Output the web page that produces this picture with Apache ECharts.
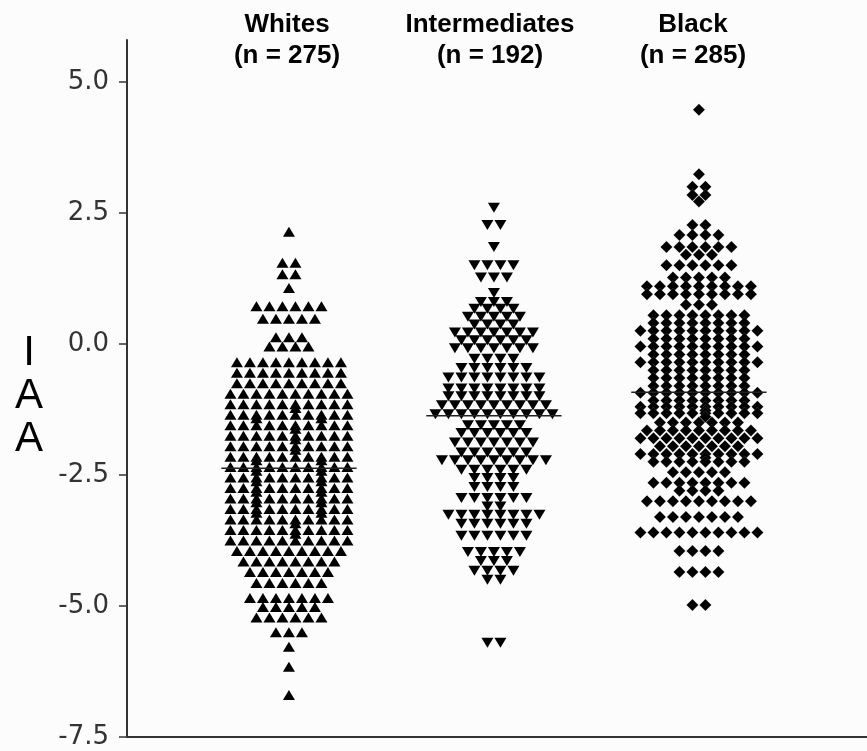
<!DOCTYPE html>
<html>
<head>
    <meta charset="utf-8" />
    <title>IAA by group</title>
    <style>
        html, body { margin: 0; padding: 0; background: #fcfcfc; }
        #chart { width: 867px; height: 751px; }
    </style>
</head>
<body>
    <div id="chart"></div>
    <script src="https://cdn.jsdelivr.net/npm/echarts@6/dist/echarts.min.js"></script>
    <script>
        // group names and sizes
        var groups = ['Whites', 'Intermediates', 'Black'];
        var groupN = [275, 192, 285];
        var yTicks = [-7.5, -5.0, -2.5, 0.0, 2.5, 5.0];

        // values: level -> number of points at that level
        var whitesLevels = [2.14, 1.55, 1.33, 1.07, 0.72, 0.48, 0.13, -0.05, -0.35, -0.55, -0.75, -0.95, -1.15, -1.35, -1.55, -1.75, -1.95, -2.15, -2.35, -2.55, -2.75, -2.95, -3.15, -3.35, -3.55, -3.75, -3.95, -4.15, -4.35, -4.56, -4.85, -5.02, -5.22, -5.5, -5.78, -6.16, -6.7];
        var whitesCounts = [1, 2, 2, 1, 6, 5, 3, 4, 9, 9, 9, 10, 11, 12, 11, 11, 11, 12, 12, 12, 12, 12, 12, 11, 11, 10, 9, 8, 7, 6, 7, 5, 6, 3, 1, 1, 1];

        var interLevels = [2.6, 2.27, 1.85, 1.5, 1.27, 0.97, 0.8, 0.67, 0.52, 0.37, 0.22, 0.07, -0.08, -0.28, -0.46, -0.64, -0.85, -1.0, -1.17, -1.34, -1.55, -1.7, -1.88, -2.07, -2.22, -2.4, -2.56, -2.73, -2.94, -3.1, -3.26, -3.43, -3.66, -3.97, -4.14, -4.33, -4.5, -5.7];
        var interCounts = [1, 2, 1, 4, 3, 1, 3, 4, 5, 4, 7, 6, 7, 4, 6, 8, 8, 8, 9, 10, 5, 6, 7, 6, 9, 6, 4, 4, 6, 2, 8, 6, 6, 5, 3, 4, 2, 2];

        var blackLevels = [4.47, 3.24, 3.0, 2.84, 2.72, 2.27, 2.08, 1.85, 1.7, 1.5, 1.27, 1.1, 0.95, 0.75, 0.55, 0.4, 0.25, 0.1, -0.05, -0.2, -0.35, -0.5, -0.65, -0.8, -0.93, -1.08, -1.2, -1.32, -1.5, -1.65, -1.8, -1.95, -2.1, -2.25, -2.45, -2.65, -2.8, -3.0, -3.3, -3.6, -3.95, -4.35, -4.98];
        var blackCounts = [1, 1, 2, 2, 1, 2, 4, 6, 3, 6, 5, 9, 9, 3, 8, 8, 10, 8, 10, 8, 10, 8, 8, 8, 10, 8, 11, 11, 7, 9, 10, 7, 11, 8, 5, 8, 4, 9, 7, 10, 4, 4, 2];

        // group means (horizontal bars)
        var groupMeans = [-2.37, -1.37, -0.92];

        var xMin = -0.79, xMax = 2.82;
        var pxPerUnit = 740 / (xMax - xMin);
        var colStep = 13 / pxPerUnit;
        var maxCols = 10;

        // lay points of one group out in rows, side by side around the centre;
        // rows fuller than maxCols get their extra points tucked just below, spread out
        function swarm(center, levels, counts) {
            var pts = [];
            levels.forEach(function (v, i) {
                var n = counts[i];
                var first = Math.min(n, maxCols);
                var rest = n - first;
                for (var k = 0; k < first; k++) {
                    pts.push([center + (k - (first - 1) / 2) * colStep, v]);
                }
                for (k = 0; k < rest; k++) {
                    var col = Math.round((k + 0.5) * first / rest - 0.5);
                    pts.push([center + (col - (first - 1) / 2) * colStep, v - 0.07]);
                }
            });
            return pts;
        }

        var series = [
            { type: 'scatter', data: swarm(0, whitesLevels, whitesCounts), symbol: 'triangle', symbolSize: [12, 10], itemStyle: { color: '#000', opacity: 1 } },
            { type: 'scatter', data: swarm(1, interLevels, interCounts), symbol: 'triangle', symbolRotate: 180, symbolSize: [12, 10], itemStyle: { color: '#000', opacity: 1 } },
            { type: 'scatter', data: swarm(2, blackLevels, blackCounts), symbol: 'diamond', symbolSize: [12, 12], itemStyle: { color: '#000', opacity: 1, borderColor: 'rgba(255,255,255,0.35)', borderWidth: 0.4 } }
        ];
        groupMeans.forEach(function (m, i) {
            series.push({
                type: 'line', data: [[i - 0.33, m], [i + 0.33, m]], symbol: 'none', z: 5,
                lineStyle: { color: '#222', width: 1.5 }
            });
        });

        var titleX = [287, 490, 693];
        var graphics = [];
        groups.forEach(function (g, i) {
            graphics.push({ type: 'text', x: titleX[i], y: 25, style: { text: g, textAlign: 'center', textVerticalAlign: 'middle', font: 'bold 26px "Liberation Sans", Arial, sans-serif', fill: '#000' } });
            graphics.push({ type: 'text', x: titleX[i], y: 56, style: { text: '(n = ' + groupN[i] + ')', textAlign: 'center', textVerticalAlign: 'middle', font: 'bold 26px "Liberation Sans", Arial, sans-serif', fill: '#000' } });
        });
        graphics.push({ type: 'text', x: 29, y: 396, style: { text: 'I\nA\nA', textAlign: 'center', textVerticalAlign: 'middle', font: '42px "Liberation Sans", Arial, sans-serif', lineHeight: 43, fill: '#000' } });

        var option = {
            backgroundColor: '#fcfcfc',
            animation: false,
            grid: { left: 127, right: 0, top: 40, bottom: 14 },
            xAxis: {
                type: 'value', min: xMin, max: xMax,
                axisLine: { show: true, onZero: false, lineStyle: { color: '#333', width: 2 } },
                axisTick: { show: false }, axisLabel: { show: false }, splitLine: { show: false }
            },
            yAxis: {
                type: 'value', min: -7.5, max: 5.8, interval: 2.5,
                axisLine: { show: true, onZero: false, lineStyle: { color: '#333', width: 2 } },
                axisTick: { show: true, length: 8, customValues: yTicks, lineStyle: { color: '#333', width: 1.5 } },
                axisLabel: {
                    customValues: yTicks, margin: 18,
                    fontFamily: 'DejaVu Sans', fontSize: 26, color: '#333',
                    formatter: function (v) { return v.toFixed(1); }
                },
                splitLine: { show: false }
            },
            graphic: graphics,
            series: series
        };

        var chart = echarts.init(document.getElementById('chart'));
        chart.setOption(option);
    </script>
</body>
</html>
